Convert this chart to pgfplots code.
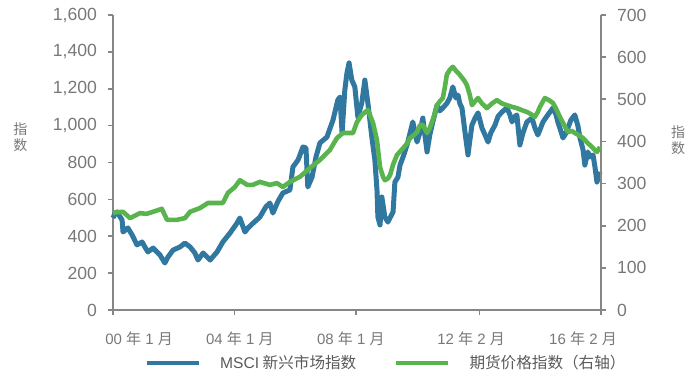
\documentclass[border=0pt]{standalone}
\usepackage{fontspec}
\setmainfont{Liberation Sans}
\newfontfamily\cjk{Noto Sans CJK SC}
\usepackage{pgfplots}
\pgfplotsset{compat=1.18}
\definecolor{msci}{RGB}{49,120,160}
\definecolor{fut}{RGB}{90,180,78}
\definecolor{axgray}{RGB}{134,134,134}
\definecolor{txtgray}{RGB}{120,120,120}
\definecolor{leggray}{RGB}{90,90,90}
\pgfplotsset{
  common/.style={
    at={(0,0)}, anchor=south west, scale only axis,
    width=244pt, height=147.5pt,
    xmin=2000, xmax=2016.083,
    axis line style={axgray, line width=0.8pt, -},
    tick style={axgray, line width=0.8pt},
    tick align=outside, major tick length=2.5pt,
    /pgf/number format/assume math mode=true,
    /pgf/number format/1000 sep={,},
    yticklabel style={font=\fontsize{8.8}{10}\selectfont, text=txtgray},
    xticklabel style={font=\fontsize{7.5}{9}\selectfont, text=txtgray, yshift=-7.5pt},
    clip=false,
  }
}
\begin{document}
\begin{tikzpicture}
\useasboundingbox (-56.5pt,-31.5pt) rectangle (291.5pt,155pt);
\begin{axis}[common,
  ymin=0, ymax=1600,
  axis x line*=bottom, axis y line*=left,
  ytick={0,200,...,1600},
  yticklabel style={xshift=-2pt},
  xtick={2000,2004,2008,2012.083,2016.083},
  xticklabels={},
  extra x ticks={2000.86,2004.18,2007.84,2011.80,2015.49},
  extra x tick style={major tick length=0pt},
  extra x tick labels={00 {\cjk 年} 1 {\cjk 月},04 {\cjk 年} 1 {\cjk 月},08 {\cjk 年} 1 {\cjk 月},12 {\cjk 年} 2 {\cjk 月},16 {\cjk 年} 2 {\cjk 月}},
]
\node[font=\cjk\fontsize{7}{8}\selectfont, text=txtgray, align=center] at (axis description cs:-0.19,0.585) {指\\数};
\addplot[msci, line width=2.5pt, line join=round] coordinates {
(2000.00,499) (2000.07,525) (2000.13,532) (2000.30,488) (2000.33,423) (2000.49,445) (2000.63,407)
(2000.79,353) (2000.96,369) (2001.05,342) (2001.15,315) (2001.32,336) (2001.55,298) (2001.71,255)
(2001.81,287) (2001.98,325) (2002.21,342) (2002.37,363) (2002.54,342) (2002.70,309) (2002.80,271)
(2002.97,309) (2003.20,271) (2003.43,315) (2003.62,369) (2003.86,418) (2004.09,472) (2004.18,499)
(2004.35,423) (2004.45,445) (2004.61,470) (2004.84,504) (2005.04,560) (2005.17,580) (2005.27,526)
(2005.44,590) (2005.60,635) (2005.83,651) (2005.93,776) (2006.10,814) (2006.26,884) (2006.36,879)
(2006.42,667) (2006.56,721) (2006.69,830) (2006.82,906) (2007.05,938) (2007.25,1030) (2007.41,1139)
(2007.48,1155) (2007.55,960) (2007.64,1193) (2007.71,1285) (2007.78,1340) (2007.87,1247) (2007.97,1210)
(2008.07,1047) (2008.20,1123) (2008.30,1247) (2008.40,1123) (2008.53,938) (2008.63,814) (2008.70,651)
(2008.73,504) (2008.80,461) (2008.86,613) (2008.96,504) (2009.06,477) (2009.13,500) (2009.23,532)
(2009.29,694) (2009.39,720)
(2009.46,786) (2009.56,830) (2009.69,895) (2009.79,960) (2009.88,1020) (2010.02,911) (2010.12,965)
(2010.21,1041) (2010.35,857) (2010.44,949) (2010.54,1020) (2010.68,1112) (2010.77,1080) (2010.87,1096)
(2011.00,1120) (2011.10,1150) (2011.20,1210) (2011.30,1150) (2011.37,1166) (2011.43,1120) (2011.50,1096)
(2011.60,965) (2011.70,841) (2011.76,920) (2011.83,1003) (2011.93,1040) (2012.03,1069) (2012.16,987)
(2012.26,950) (2012.36,911) (2012.45,960) (2012.59,1003) (2012.69,1050) (2012.82,1074) (2012.98,1096)
(2013.08,1060) (2013.15,1020) (2013.25,1050) (2013.31,1058) (2013.41,895) (2013.51,960) (2013.64,1020)
(2013.81,1041) (2013.90,990) (2014.00,949) (2014.10,990) (2014.17,1020) (2014.33,1058) (2014.50,1096)
(2014.60,1060) (2014.66,1020) (2014.76,970) (2014.83,933) (2014.93,960) (2014.99,987) (2015.09,1030)
(2015.22,1058) (2015.32,1000) (2015.39,933) (2015.49,870) (2015.55,786) (2015.65,857) (2015.72,830)
(2015.82,841) (2015.88,780) (2015.95,694) (2016.01,730) (2016.05,749)
};
\end{axis}
\begin{axis}[common,
  ymin=0, ymax=700,
  axis x line=none, axis y line*=right,
  ytick={0,100,...,700},
  yticklabel style={xshift=2pt},
  legend columns=2,
  legend style={at={(axis description cs:0.562,-0.18)}, anchor=center, draw=none, fill=none,
    font=\cjk\fontsize{7.8}{9}\selectfont, text=leggray,
    /tikz/every odd column/.append style={column sep=8pt},
    /tikz/every even column/.append style={column sep=17pt}},
  legend image code/.code={\draw[#1, line width=1.6pt] (0pt,0pt) -- (26pt,0pt);},
]
\node[font=\cjk\fontsize{7}{8}\selectfont, text=txtgray, align=center] at (axis description cs:1.158,0.575) {指\\数};
\addlegendimage{msci}
\addlegendentry{{\rmfamily MSCI} 新兴市场指数}
\addplot[fut, line width=2.3pt, line join=round] coordinates {
(2000.00,230) (2000.13,232) (2000.33,233) (2000.56,218) (2000.89,230) (2001.10,228) (2001.32,233)
(2001.61,240) (2001.78,214) (2002.11,214) (2002.37,218) (2002.54,233) (2002.87,242) (2003.13,254)
(2003.62,254) (2003.79,278) (2004.02,292) (2004.18,308) (2004.42,297) (2004.61,297) (2004.84,304)
(2005.17,297) (2005.40,301) (2005.60,292) (2005.83,304) (2006.16,316) (2006.49,337) (2006.82,356)
(2007.15,380) (2007.38,408) (2007.58,420) (2007.91,420) (2008.04,446) (2008.20,463) (2008.40,475)
(2008.57,444) (2008.70,403) (2008.80,339) (2008.90,316) (2008.96,308) (2009.06,312)
(2009.13,320) (2009.23,345) (2009.36,368) (2009.56,384) (2009.69,395) (2009.79,408) (2009.92,415)
(2010.02,422) (2010.12,439) (2010.21,439) (2010.35,420) (2010.44,432) (2010.58,460) (2010.68,486)
(2010.77,495) (2010.87,503) (2010.94,530) (2011.00,558) (2011.10,570) (2011.20,577) (2011.30,568)
(2011.43,558) (2011.57,545) (2011.66,534) (2011.76,510) (2011.83,486) (2011.93,495) (2012.03,503)
(2012.16,490) (2012.32,479) (2012.49,490) (2012.65,498) (2012.82,490) (2012.98,486) (2013.15,482)
(2013.31,479) (2013.48,474) (2013.64,470) (2013.77,465) (2013.90,458) (2014.00,470) (2014.07,482)
(2014.17,495) (2014.23,503) (2014.37,498) (2014.50,491) (2014.60,478) (2014.73,458) (2014.86,440)
(2014.99,422) (2015.12,425) (2015.22,420) (2015.35,415) (2015.49,408) (2015.62,398) (2015.72,391)
(2015.85,382) (2015.95,375) (2016.05,387)
};
\addlegendentry{期货价格指数（右轴）}
\end{axis}
\end{tikzpicture}
\end{document}
